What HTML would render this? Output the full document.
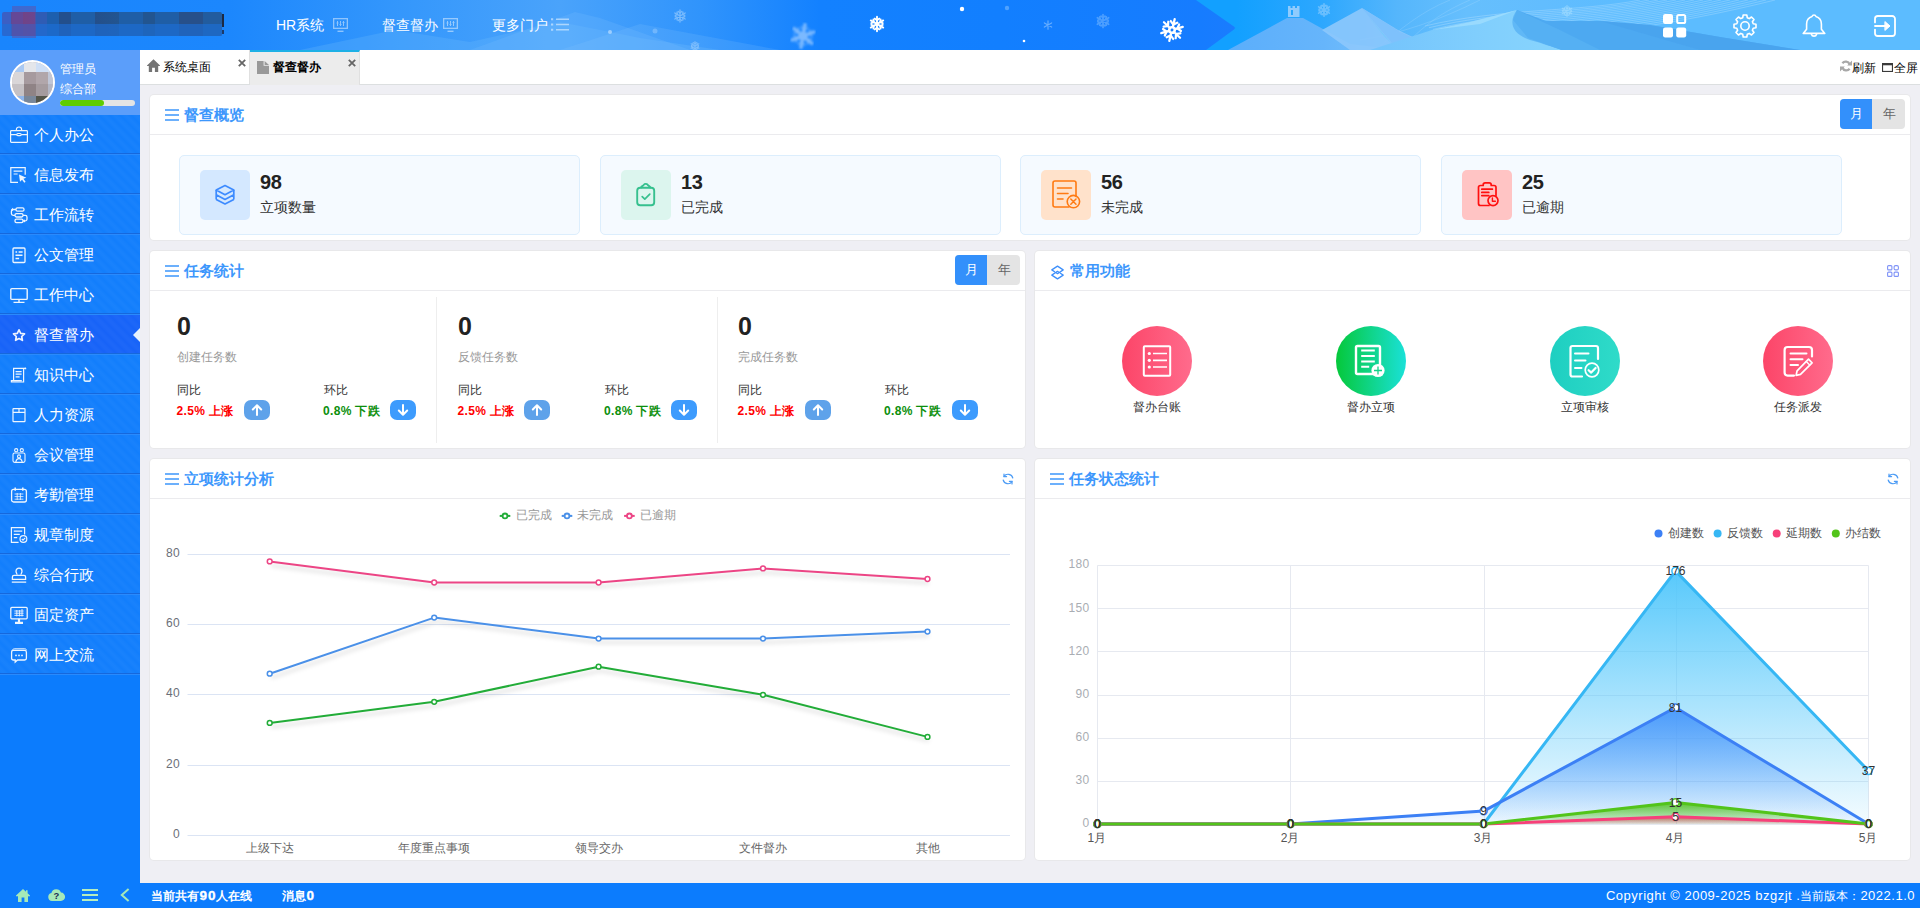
<!DOCTYPE html>
<html lang="zh">
<head>
<meta charset="utf-8">
<title>督查督办</title>
<style>
*{box-sizing:border-box;margin:0;padding:0}
html,body{width:1920px;height:908px;overflow:hidden}
body{position:relative;font-family:"Liberation Sans",sans-serif;background:#efeff4;color:#333;font-size:12px}
.abs{position:absolute}
svg{display:block;overflow:visible}
/* header */
#header{position:absolute;left:0;top:0;width:1920px;height:50px;overflow:hidden;
background:linear-gradient(90deg,#1985fd 0px,#1c87fd 230px,#3497fc 400px,#4aa3fb 560px,#3094fc 700px,#1381ff 820px,#127fff 1000px,#167cff 1200px,#1a7cfe 1234px,#16a0ff 1236px,#3ba4fb 1300px,#57aefa 1450px,#5bb8fd 1620px,#5cbcff 1700px,#5cbcff 1920px)}
#header .nav{position:absolute;top:0;height:50px;line-height:50px;color:#fff;font-size:14px;white-space:nowrap}
/* sidebar */
#sidebar{position:absolute;left:0;top:50px;width:140px;height:833px;background:#0c7cfd;overflow:hidden}
#user{position:absolute;left:0;top:0;width:140px;height:65px;background:#5b9efa}
#user .av{position:absolute;left:10px;top:10px;width:45px;height:45px;border-radius:50%;border:2px solid #fff;overflow:hidden;background:#b9b0b3}
#user .t{position:absolute;left:60px;color:#fff;font-size:12px;line-height:14px;white-space:nowrap}
#user .bar{position:absolute;left:60px;top:50px;width:75px;height:6px;border-radius:3px;background:#e4e4e4;overflow:hidden}
#user .bar i{display:block;width:44px;height:6px;border-radius:3px;background:#5fcc00}
.mi{position:absolute;left:0;width:140px;height:40px;color:#fff;font-size:15px;line-height:39px;
background-color:#127efc;background-image:repeating-linear-gradient(45deg,rgba(255,255,255,0) 0,rgba(255,255,255,.026) 3px,rgba(255,255,255,.026) 4.500px,rgba(255,255,255,0) 7.500px);
border-bottom:1px solid #2a8afc;box-shadow:inset 0 -1px 0 #1668dc}
.mi span{position:absolute;left:33.500px;top:0;white-space:nowrap;letter-spacing:.25px}
.mi svg{position:absolute;left:10px;top:11px;opacity:.92}
.mi.on{background-color:#1763f8}
.mi .tri{position:absolute;right:0;top:13px;width:0;height:0;border-style:solid;border-width:7px 7px 7px 0;border-color:transparent #e8f3fc transparent transparent}
/* tabs */
#tabs{position:absolute;left:140px;top:50px;width:1780px;height:35px;background:#fff;border-bottom:1px solid #dcdfe0}
.tab{position:absolute;top:0;height:34px;width:110px;font-size:12px;line-height:33px;color:#000;border-right:1px solid #e0e0e0}
/* panels */
.panel{position:absolute;background:#fff;border-radius:4px;box-shadow:0 0 0 1px #e8e8ea}
.panel .hd{position:absolute;left:0;top:0;right:0;height:40px;border-bottom:1px solid #ebebee}
.panel .ttl{position:absolute;left:34px;top:0;line-height:40px;font-size:15px;font-weight:bold;color:#3d97fc;white-space:nowrap}
.panel .ham{position:absolute;left:15px;top:14px}

.sw{position:absolute;width:65px;height:30px;border-radius:4px;overflow:hidden;background:#e4e4e4;font-size:13px;line-height:30px;text-align:center}
.sw b{position:absolute;left:0;top:0;width:32px;height:30px;background:#3390fb;color:#fff;font-weight:normal}
.sw i{position:absolute;left:33px;top:0;width:32px;height:30px;color:#666;font-style:normal}
.card{position:absolute;top:60px;width:401px;height:80px;background:#f5faff;border:1px solid #dceefd;border-radius:5px}
.card .ib{position:absolute;left:20px;top:14px;width:50px;height:50px;border-radius:5px}
.card .n{position:absolute;left:80px;top:14px;font-size:20px;line-height:24px;font-weight:bold;color:#222;letter-spacing:-.3px}
.card .l{position:absolute;left:80px;top:41.500px;font-size:14px;line-height:18px;color:#333;white-space:nowrap}

.vsep{position:absolute;top:46px;width:1px;height:146px;background:#eeeeee}
.tc{position:absolute;top:40px;width:260px;height:157px}
.tc .big{position:absolute;left:0;top:21px;font-size:25px;line-height:28px;font-weight:bold;color:#222}
.tc .sub{position:absolute;left:0;top:58px;font-size:12px;line-height:16px;color:#999;white-space:nowrap}
.tc .k{position:absolute;top:91px;font-size:12px;line-height:16px;color:#333;white-space:nowrap}
.tc .v{position:absolute;top:112px;font-size:12px;line-height:16px;font-weight:bold;white-space:nowrap;letter-spacing:.35px;margin-left:-.5px}
.tc .ab{position:absolute;top:109px;width:26px;height:20px;border-radius:7px}

.fn{position:absolute;top:75px;width:70px;height:70px;border-radius:50%}
.fl{position:absolute;top:148px;width:120px;text-align:center;font-size:12px;line-height:16px;color:#333;white-space:nowrap}
/* footer */
#footer{position:absolute;left:0;top:883px;width:1920px;height:25px;background:#0c7cfd;color:#fff;font-size:12px;line-height:25px;font-weight:bold}
.vd{font-size:13.500px;letter-spacing:.9px;margin-left:.5px;-webkit-text-stroke:.35px #fff}
</style>
</head>
<body>
<div id="header">
<svg class="abs" style="left:0;top:0" width="1920" height="50" viewBox="0 0 1920 50">
<defs>
<linearGradient id="hg1" x1="0" x2="1"><stop offset="0" stop-color="#6fbdfd" stop-opacity=".0"/><stop offset=".5" stop-color="#7cc4fd" stop-opacity=".55"/><stop offset="1" stop-color="#6fbdfd" stop-opacity=".0"/></linearGradient>
<g id="sf" fill="none" stroke-linecap="round"><path d="M0-10V10M-8.660-5L8.660 5M-8.660 5L8.660-5"/><path d="M-3-7.500L0-5 3-7.500M-3 7.500L0 5 3 7.500M-8-1.100L-4.330-2.500-5-6.350M8 1.100L4.330 2.500 5 6.350M-8 1.100L-4.330 2.500-5 6.350M8-1.100L4.330-2.500 5-6.350"/></g>
<g id="sf2" fill="none" stroke-linecap="round"><path d="M0-10V10M-8.660-5L8.660 5M-8.660 5L8.660-5"/></g>
<filter id="bl"><feGaussianBlur stdDeviation="1.1"/></filter>
</defs>
<!-- left faint mountains -->
<path d="M300 50L395 30 470 42 560 22 640 38 720 50z" fill="#6db9fd" opacity=".28"/>
<path d="M470 50L575 12 600 18 690 50z" fill="#7cc0fd" opacity=".22"/>
<path d="M560 50L640 24 780 50z" fill="#8cc8fe" opacity=".18"/>
<!-- right side -->
<linearGradient id="sky" x1="1236" x2="1620" gradientUnits="userSpaceOnUse"><stop offset="0" stop-color="#12a0ff"/><stop offset=".22" stop-color="#2ca7fe"/><stop offset=".42" stop-color="#55b6fc"/><stop offset=".6" stop-color="#66bffd"/><stop offset=".8" stop-color="#62bdfe"/><stop offset="1" stop-color="#5cbcff"/></linearGradient>
<linearGradient id="m1" x1="1230" x2="1400" gradientUnits="userSpaceOnUse"><stop offset="0" stop-color="#5baefb"/><stop offset=".55" stop-color="#66b5fb"/><stop offset="1" stop-color="#78c4fc"/></linearGradient>
<linearGradient id="m3" x1="1380" x2="1540" gradientUnits="userSpaceOnUse"><stop offset="0" stop-color="#74c4fc"/><stop offset=".6" stop-color="#80cefd"/><stop offset="1" stop-color="#86d3fd"/></linearGradient>
<path d="M1196 0L1236 28 1206 50H1920V0z" fill="url(#sky)"/>
<g fill="none" stroke="#fff" stroke-width=".7" opacity=".3"><path d="M1425 26.0C1500 8.0 1580 12.0 1640 0M1429 27.7C1503 9.7 1583 13.7 1649 0M1433 29.4C1506 11.399999999999999 1586 15.399999999999999 1658 0M1437 31.1C1509 13.100000000000001 1589 17.1 1667 0M1441 32.8C1512 14.8 1592 18.8 1676 0M1445 34.5C1515 16.5 1595 20.5 1685 0M1449 36.2C1518 18.2 1598 22.2 1694 0M1453 37.9C1521 19.9 1601 23.9 1703 0M1457 39.6C1524 21.6 1604 25.6 1712 0M1461 41.3C1527 23.299999999999997 1607 27.299999999999997 1721 0M1465 43.0C1530 25.0 1610 29.0 1730 0M1469 44.7C1533 26.700000000000003 1613 30.700000000000003 1739 0M1473 46.4C1536 28.4 1616 32.4 1748 0M1477 48.099999999999994C1539 30.099999999999994 1619 34.099999999999994 1757 0M1481 49.8C1542 31.799999999999997 1622 35.8 1766 0M1485 51.5C1545 33.5 1625 37.5 1775 0"/><path d="M1380 46C1400 30 1420 12 1450 0M1400 50C1420 30 1435 15 1470 0M1360 40C1400 34 1440 20 1480 0" opacity=".6"/></g>
<path d="M1228 50L1287 18 1303 18 1350 44 1400 50z" fill="url(#m1)"/>
<path d="M1322 30L1362 8 1398 30 1440 50H1350z" fill="#8dc8fc" opacity=".9"/>
<path d="M1362 8L1400 32 1440 50H1398z" fill="#7cc0fb" opacity=".85"/>
<path d="M1362 8L1384 36 1392 44 1378 28z" fill="#6ccbfa" opacity=".8"/>
<path d="M1370 50L1432 30 1470 22 1517 10 1513 20 1528 38 1562 50z" fill="url(#m3)"/>
<path d="M1432 30L1470 22 1517 10 1480 24z" fill="#a4e0fe" opacity=".7"/>
<path d="M1517 10L1546 21 1600 21 1650 25 1720 37 1800 50H1562L1528 38 1513 20z" fill="#4da9f1"/>
<path d="M1517 10C1508 22 1512 34 1530 40 1545 44 1552 47 1562 50H1600L1560 30z" fill="#57b2f4" opacity=".8"/>
<path d="M1600 21L1650 25 1720 37 1800 50H1700z" fill="#48a3ee" opacity=".8"/>
<!-- tower -->
<path d="M1288 17V6h2.500v2h2V6h2.500v2h2V6h2.500v11zM1291 10v5h2v-5z" fill="#8fcbfd" fill-rule="evenodd"/>
<!-- snowflakes -->
<g transform="translate(803 36) scale(1.150) rotate(10)" filter="url(#bl)" opacity=".55"><use href="#sf2" stroke="#cfe6ff" stroke-width="3"/><circle r="4" fill="#cfe6ff"/><use href="#sf" stroke="#cfe6ff" stroke-width="1"/></g>
<g transform="translate(877 24) scale(.72)"><use href="#sf" stroke="#fff" stroke-width="2.600"/></g>
<g transform="translate(1172 30) scale(1.120) rotate(14)"><use href="#sf" stroke="#fff" stroke-width="2"/><circle r="3.600" fill="#fff"/><circle r="1.300" fill="#1a80ff"/></g>
<g transform="translate(680 16) scale(.6)" opacity=".45"><use href="#sf" stroke="#cfe8ff" stroke-width="2.200"/></g>
<g transform="translate(1103 21) scale(.65)" opacity=".4"><use href="#sf" stroke="#9fd0ff" stroke-width="2.600"/></g>
<g transform="translate(1048 25) scale(.42)" opacity=".5"><use href="#sf2" stroke="#b8dcff" stroke-width="2.800"/></g>
<g transform="translate(695 46) scale(.45)" opacity=".4"><use href="#sf" stroke="#cfe8ff" stroke-width="2.400"/></g>
<g transform="translate(1324 10) scale(.62)" opacity=".55"><use href="#sf" stroke="#9fd4ff" stroke-width="2.600"/></g>
<g transform="translate(1567 11) scale(.55)" opacity=".6"><use href="#sf" stroke="#a8e0ff" stroke-width="2.200"/></g>
<circle cx="962" cy="9" r="2.200" fill="#fff"/><circle cx="1024" cy="41" r="1.300" fill="#fff"/><circle cx="1007" cy="8" r="2.200" fill="#9ccfff" opacity=".45"/>
<circle cx="610" cy="32" r="2" fill="#cfe8ff" opacity=".6"/><circle cx="655" cy="31" r="2.500" fill="#cfe8ff" opacity=".3"/>
</svg>
<!-- blurred logo -->
<div class="abs" style="left:2px;top:12px;width:220px;height:24px;background:linear-gradient(90deg,#3b5fc4 0,#3b5fc4 9px,#5d4a95 9px,#5d4a95 21px,#73417a 21px,#6a4588 33px,#2f5cb4 33px,#2f5cb4 45px,#1d5fae 45px,#1d5fae 57px,#234f8c 57px,#234f8c 69px,#1f5ea6 69px,#1f5ea6 93px,#244f8a 93px,#225590 117px,#1f5ea6 117px,#1f5ea6 141px,#225590 141px,#225590 153px,#1f5ea6 153px,#1f5ea6 177px,#27508a 177px,#27508a 201px,#225c9e 201px,#225c9e 219px);border-radius:2px"></div>
<div class="abs" style="left:2px;top:24px;width:220px;height:12px;background:rgba(28,112,218,.6)"></div><div class="abs" style="left:222px;top:14px;width:1.500px;height:13px;background:#1c2a44"></div><div class="abs" style="left:222px;top:30px;width:1.500px;height:4px;background:#1c3a6a"></div>
<div class="abs" style="left:12px;top:6px;width:24px;height:32px;background:rgba(110,70,150,.45)"></div>
<div class="nav" style="left:276px">HR系统</div>
<svg class="abs" style="left:333px;top:18px;opacity:.47" width="15" height="14" viewBox="0 0 15 14" fill="none" stroke="#fff" stroke-width="1.300"><rect x=".65" y=".65" width="13.700" height="9.700"/><path d="M4.500 13.300h6" stroke-width="1.400"/><path d="M4.500 3v5M7.500 3v5M10.500 3v5" stroke-width="1"/><path d="M3.500 5h2M6.500 6.500h2M9.500 4.500h2" stroke-width="1"/></svg>
<div class="nav" style="left:382px">督查督办</div>
<svg class="abs" style="left:443px;top:18px;opacity:.47" width="15" height="14" viewBox="0 0 15 14" fill="none" stroke="#fff" stroke-width="1.300"><rect x=".65" y=".65" width="13.700" height="9.700"/><path d="M4.500 13.300h6" stroke-width="1.400"/><path d="M4.500 3v5M7.500 3v5M10.500 3v5" stroke-width="1"/><path d="M3.500 5h2M6.500 6.500h2M9.500 4.500h2" stroke-width="1"/></svg>
<div class="nav" style="left:492px">更多门户</div>
<svg class="abs" style="left:551px;top:18px;opacity:.5" width="18" height="13" viewBox="0 0 18 13" fill="none" stroke="#fff" stroke-width="1.500"><path d="M5 1.200h13M5 6.500h13M5 11.800h13"/><path d="M0 1.200h2.200M0 6.500h2.200M0 11.800h2.200" stroke-width="2"/></svg>
<!-- right icons -->
<svg class="abs" style="left:1663px;top:14px" width="24" height="24" viewBox="0 0 24 24"><rect x="0" y="0" width="10" height="10" rx="2.200" fill="#fff"/><rect x="0" y="13.400" width="10" height="10" rx="2.200" fill="#fff"/><rect x="13.200" y="13.400" width="10" height="10" rx="2.200" fill="#fff"/><rect x="14.200" y="1" width="8" height="8" rx="1.600" fill="none" stroke="#fff" stroke-width="2"/></svg>
<svg class="abs" style="left:1733px;top:14px" width="24" height="24" viewBox="0 0 24 24" fill="none" stroke="#fff" stroke-width="1.600" stroke-linejoin="round"><path d="M10.200 1h3.600l.5 2.800 1.900.8 2.300-1.600 2.500 2.500-1.600 2.300.8 1.900 2.800.5v3.600l-2.800.5-.8 1.900 1.600 2.300-2.500 2.500-2.300-1.600-1.900.8-.5 2.800h-3.600l-.5-2.800-1.900-.8-2.300 1.600-2.500-2.500 1.600-2.300-.8-1.900L1 13.800v-3.600l2.800-.5.800-1.900L3 5.500 5.500 3l2.300 1.600 1.900-.8z"/><circle cx="12" cy="12" r="4.200"/></svg>
<svg class="abs" style="left:1802px;top:14px" width="24" height="24" viewBox="0 0 24 24" fill="none" stroke="#fff" stroke-width="1.600" stroke-linejoin="round" stroke-linecap="round"><path d="M12 1c-1 0-1.700.6-1.900 1.400C6.600 3.400 4.600 6.400 4.600 10v5.200L1.200 19.400h21.600l-3.400-4.200V10c0-3.600-2-6.600-5.500-7.600C13.700 1.600 13 1 12 1z"/><path d="M9.400 20.200a2.700 2.700 0 0 0 5.200 0"/></svg>
<svg class="abs" style="left:1874px;top:15px" width="22" height="22" viewBox="0 0 22 22" fill="none" stroke="#fff" stroke-width="1.800" stroke-linejoin="round" stroke-linecap="round"><path d="M1 7.400V3.800A2.800 2.800 0 0 1 3.800 1h14.400A2.800 2.800 0 0 1 21 3.800v14.400a2.800 2.800 0 0 1-2.800 2.800H3.800A2.800 2.800 0 0 1 1 18.200v-3.600"/><path d="M1 11h14"/><path d="M11.200 6.800L16 11l-4.800 4.200z" fill="#fff" stroke-width="1"/></svg>
</div>
<div id="sidebar">
<div id="user"><div class="av"><svg width="41" height="41" viewBox="0 0 41 41"><rect x="0" y="-2" width="12.5" height="12.5" fill="#a9c9f3"/><rect x="12" y="-2" width="12.5" height="12.5" fill="#e4e6ea"/><rect x="24" y="-2" width="12.5" height="12.5" fill="#cfdff5"/><rect x="36" y="-2" width="8.5" height="12.5" fill="#d5e2f5"/><rect x="0" y="10" width="12.5" height="12.5" fill="#d9d6d8"/><rect x="12" y="10" width="12.5" height="12.5" fill="#a69a9e"/><rect x="24" y="10" width="12.5" height="12.5" fill="#b1a6aa"/><rect x="36" y="10" width="8.5" height="12.5" fill="#c0c6d6"/><rect x="0" y="22" width="12.5" height="12.5" fill="#c5c1c4"/><rect x="12" y="22" width="12.5" height="12.5" fill="#8f8385"/><rect x="24" y="22" width="12.5" height="12.5" fill="#a59b9e"/><rect x="36" y="22" width="8.5" height="12.5" fill="#b3b6c4"/><rect x="0" y="34" width="12.5" height="12.5" fill="#8db5ec"/><rect x="12" y="34" width="12.5" height="12.5" fill="#78879a"/><rect x="24" y="34" width="12.5" height="12.5" fill="#54554a"/><rect x="36" y="34" width="8.5" height="12.5" fill="#6f7468"/></svg></div><div class="t" style="top:12px">管理员</div><div class="t" style="top:32px">综合部</div><div class="bar"><i></i></div></div>
<div class="mi" style="top:65px"><svg width="18" height="18" viewBox="0 0 18 18" fill="none" stroke="#fff" stroke-width="1.2"><rect x=".6" y="4.6" width="16.8" height="11.8" rx=".8"/><path d="M6.4 4.4V3.6a2.6 2.6 0 0 1 5.2 0v.8M.6 8.6h6.2M11.2 8.6h6.2"/><rect x="6.8" y="7.5" width="4.4" height="2.2" rx="1.1"/></svg><span>个人办公</span></div>
<div class="mi" style="top:105px"><svg width="18" height="18" viewBox="0 0 18 18" fill="none" stroke="#fff" stroke-width="1.2"><path d="M8 16.4H.8V1.6h14.4v7.2M3.6 5.2h8.8M3.6 8h4"/><path d="M9 8.6l7.4 3.2-3 1 2.2 3-1.3 1-2.2-3.1-2.1 2.1z" fill="#fff" stroke="none"/></svg><span>信息发布</span></div>
<div class="mi" style="top:145px"><svg width="18" height="18" viewBox="0 0 18 18" fill="none" stroke="#fff" stroke-width="1.3"><rect x="6" y="1.8" width="8" height="3.4" rx="1.4"/><rect x="5" y="7.6" width="8" height="3.4" rx="1.4"/><rect x="5" y="13.2" width="8" height="3.4" rx="1.4"/><path d="M6 3.5H3.2a1.8 1.8 0 0 0-1.800 1.800v2.200a1.800 1.800 0 0 0 1.800 1.800H5M13 9.300h2.200a1.800 1.800 0 0 1 1.800 1.800v2a1.800 1.800 0 0 1-1.800 1.800H13"/><path d="M3 1.800L1.200 3.500 3 5.200zM15 13.300l-1.800 1.600 1.800 1.700z" fill="#fff" stroke="none"/></svg><span>工作流转</span></div>
<div class="mi" style="top:185px"><svg width="18" height="18" viewBox="0 0 18 18" fill="none" stroke="#fff" stroke-width="1.3"><rect x="3" y="2" width="12" height="14.500" rx="1"/><path d="M5.500 6h1.600M8.600 6h4M5.500 9.200h7M5.500 12.400h3.600" stroke-width="1.500"/></svg><span>公文管理</span></div>
<div class="mi" style="top:225px"><svg width="18" height="18" viewBox="0 0 18 18" fill="none" stroke="#fff" stroke-width="1.4"><rect x=".8" y="2.600" width="16.400" height="10.800" rx="1"/><path d="M3.500 16.400h11M9 13.400v3" /></svg><span>工作中心</span></div>
<div class="mi on" style="top:265px"><svg width="18" height="18" viewBox="0 0 18 18" fill="none" stroke="#fff" stroke-width="1.700" stroke-linejoin="round"><path d="M9 3.800l1.700 3.500 3.800.5-2.800 2.700.7 3.800L9 12.500l-3.400 1.800.7-3.800L3.500 7.800l3.800-.5z"/></svg><span>督查督办</span><b class="tri"></b></div>
<div class="mi" style="top:305px"><svg width="18" height="18" viewBox="0 0 18 18" fill="none" stroke="#fff" stroke-width="1.200"><path d="M3.600 15V2.400h11.800M13.600 2.400V16H1.400v-1.400h10.400" /><path d="M5.600 5.600h6M5.600 8.200h6M5.600 10.800h4" stroke-width="1.300"/><circle cx="15.400" cy="2.400" r=".9" fill="#fff" stroke="none"/></svg><span>知识中心</span></div>
<div class="mi" style="top:345px"><svg width="18" height="18" viewBox="0 0 18 18" fill="none" stroke="#fff" stroke-width="1.200"><rect x="3" y="2.600" width="12" height="13" rx=".6"/><path d="M3 6.400h12M9 2.600v3.800"/></svg><span>人力资源</span></div>
<div class="mi" style="top:385px"><svg width="18" height="18" viewBox="0 0 18 18" fill="none" stroke="#fff" stroke-width="1.100"><circle cx="6.200" cy="4.200" r="1.600"/><circle cx="11.800" cy="4.200" r="1.600"/><rect x="3" y="7" width="12" height="9.400" rx="1.600"/><circle cx="9" cy="10.400" r="1.500"/><path d="M5.800 16.200c.4-2.600 1.600-3.600 3.200-3.600s2.800 1 3.200 3.600"/></svg><span>会议管理</span></div>
<div class="mi" style="top:425px"><svg width="18" height="18" viewBox="0 0 18 18" fill="none" stroke="#fff" stroke-width="1.300"><rect x="1.600" y="3.400" width="14.800" height="12.600" rx="2"/><path d="M5.200 1.600v3.200M12.800 1.600v3.200" stroke-width="1.500"/><path d="M4.600 8h8.800M4.600 10.600h8.800M4.600 13.200h8.800M7.200 7v7M10.400 7v7" stroke-width=".9" opacity=".9"/></svg><span>考勤管理</span></div>
<div class="mi" style="top:465px"><svg width="18" height="18" viewBox="0 0 18 18" fill="none" stroke="#fff" stroke-width="1.200"><path d="M8.600 16.400H1.400V1.600h13.200v6.800M3.800 5.200h8.400M3.800 8.400h6M3.800 11.600h3.400"/><circle cx="13.400" cy="13" r="3.400"/><path d="M11.800 13l1.200 1.200 2.200-2.300" stroke-width="1.100"/></svg><span>规章制度</span></div>
<div class="mi" style="top:505px"><svg width="18" height="18" viewBox="0 0 18 18" fill="none" stroke="#fff" stroke-width="1.300"><path d="M6.800 8.600c.4-1-.8-2-.8-3.400a3 3 0 0 1 6 0c0 1.400-1.200 2.400-.8 3.400M2.400 13.400V11a1.600 1.600 0 0 1 1.600-1.600h10a1.600 1.600 0 0 1 1.600 1.600v2.400zM1.800 16.200h14.400"/></svg><span>综合行政</span></div>
<div class="mi" style="top:545px"><svg width="18" height="18" viewBox="0 0 18 18" fill="none" stroke="#fff" stroke-width="1.300"><rect x=".8" y="1.400" width="16.400" height="11.400" rx="1"/><path d="M5 16.800h8M9 12.800v4" stroke-width="2.200"/><path d="M4.400 5h9.200M4.400 7.200h9.200M4.400 9.400h9.200M6.800 4v6.400M9.600 4v6.400M12 3v7.400" stroke-width=".9"/></svg><span>固定资产</span></div>
<div class="mi" style="top:585px"><svg width="18" height="18" viewBox="0 0 18 18" fill="none" stroke="#fff" stroke-width="1.300"><path d="M3.400 4.400h11.200a1.800 1.800 0 0 1 1.800 1.800v6a1.800 1.800 0 0 1-1.800 1.800H7.600l-2.400 2v-2H3.400a1.800 1.800 0 0 1-1.800-1.800v-6a1.800 1.800 0 0 1 1.800-1.800z"/><path d="M1.800 4.800c.6-1.400 1.800-2 3-2h10c1 0 1.600.6 1.600 1.400" stroke-width="1"/><circle cx="6" cy="9.400" r=".9" fill="#fff" stroke="none"/><circle cx="9" cy="9.400" r=".9" fill="#fff" stroke="none"/><circle cx="12" cy="9.400" r=".9" fill="#fff" stroke="none"/></svg><span>网上交流</span></div>
</div>
<div id="tabs">
<div class="tab" style="left:0;background:#fff;line-height:35px"><svg class="abs" style="left:7px;top:9px" width="13" height="13" viewBox="0 0 13 13" fill="#747474"><path d="M6.500.2L0 6.400v.6h1.800V13h3.300V8.800h2.800V13h3.300V7H13v-.6z"/></svg><span class="abs" style="left:23px;top:0">系统桌面</span><svg class="abs" style="left:98px;top:9px" width="8" height="8" viewBox="0 0 8 8" stroke="#666" stroke-width="1.800"><path d="M.8.800l6.400 6.400M7.200.800L.8 7.200"/></svg></div>
<div class="tab" style="left:110px;background:#ececec;border-top:2px solid #1db0e6;line-height:30px;font-weight:bold;height:35px"><svg class="abs" style="left:7px;top:9px" width="12" height="13" viewBox="0 0 12 13" fill="#999"><path d="M0 0h6.600v4.800H12V13H0z"/><path d="M7.600 0L12 4H7.600z"/></svg><span class="abs" style="left:23px;top:0">督查督办</span><svg class="abs" style="left:98px;top:7px" width="8" height="8" viewBox="0 0 8 8" stroke="#666" stroke-width="1.800"><path d="M.8.800l6.400 6.400M7.200.800L.8 7.200"/></svg></div>
<svg class="abs" style="left:1700px;top:10px" width="12" height="12" viewBox="0 0 12 12" fill="none" stroke="#a8a8a8" stroke-width="2.300"><path d="M9.600 4.200A4.200 4.200 0 0 0 2.400 3.200M2.400 7.800a4.200 4.200 0 0 0 7.200 1"/><path d="M12 .6v4.800H7.200zM0 11.400V6.600h4.800z" fill="#a8a8a8" stroke="none"/></svg>
<span class="abs" style="left:1712px;top:0;line-height:36px;color:#000">刷新</span>
<svg class="abs" style="left:1742px;top:13px" width="11" height="9" viewBox="0 0 11 9" fill="none" stroke="#3a3a3a" stroke-width="1.100"><rect x=".55" y=".55" width="9.900" height="7.900"/><path d="M.6 1.400h9.800" stroke-width="1.800"/></svg>
<span class="abs" style="left:1754px;top:0;line-height:36px;color:#000">全屏</span>
</div>
<div class="panel" id="p1" style="left:150px;top:95px;width:1760px;height:145px"><div class="hd"></div>
<svg class="ham" width="14" height="12" viewBox="0 0 14 12" stroke="#3d97fc" stroke-width="1.500"><path d="M0 1h14M0 6h14M0 11h14"/></svg><div class="ttl">督查概览</div>
<div class="sw" style="left:1690px;top:4px"><b>月</b><i>年</i></div>
<div class="card" style="left:29px"><div class="ib" style="background:#d4e8ff"><svg width="50" height="50" viewBox="0 0 50 50" fill="none" stroke="#3d8bff" stroke-width="1.700" stroke-linejoin="round"><path d="M25 15.500l8.800 4.600-8.800 4.600-8.800-4.600z"/><path d="M16.200 24.800l8.800 4.600 8.800-4.600M16.200 29.400l8.800 4.600 8.800-4.600M16.200 20.100v9.300M33.800 20.100v9.300" /></svg></div><div class="n">98</div><div class="l">立项数量</div></div>
<div class="card" style="left:450px"><div class="ib" style="background:#dcf5ee"><svg width="50" height="50" viewBox="0 0 50 50" fill="none" stroke="#36c08e" stroke-width="1.900" stroke-linejoin="round" stroke-linecap="round"><rect x="16.200" y="17.800" width="17" height="17.400" rx="3"/><path d="M20 17.600c.6-1.800 2.200-1.600 3-3 .6-1 2.800-1 3.400 0 .8 1.400 2.400 1.200 3 3"/><path d="M21.200 26.600l2.600 2.600 5-5" stroke-width="1.700"/></svg></div><div class="n">13</div><div class="l">已完成</div></div>
<div class="card" style="left:870px;width:401px"><div class="ib" style="background:#ffe2cb"><svg width="50" height="50" viewBox="0 0 50 50" fill="none" stroke="#ff7a12" stroke-width="1.600" stroke-linecap="round"><path d="M28 37H14a2 2 0 0 1-2-2V13a2 2 0 0 1 2-2h19a2 2 0 0 1 2 2v13.500"/><path d="M16.500 18h14M16.500 23.500h10.500M16.500 29h5.500"/><circle cx="32.400" cy="31.600" r="6.200"/><path d="M29.800 29l5.200 5.200M35 29l-5.200 5.200" stroke-width="1.500"/></svg></div><div class="n">56</div><div class="l">未完成</div></div>
<div class="card" style="left:1291px"><div class="ib" style="background:#ffc4c4"><svg width="50" height="50" viewBox="0 0 50 50" fill="none" stroke="#ff1010" stroke-width="1.700" stroke-linecap="round" stroke-linejoin="round"><path d="M27 35.500H18.500a2 2 0 0 1-2-2V17.500a2 2 0 0 1 2-2h2.700v-.6a2 2 0 0 1 2-2h4a2 2 0 0 1 2 2v.6H32a2 2 0 0 1 2 2v8"/><path d="M19.800 19.200h10.600M19.800 22.400h7M19.800 25.600h7"/><circle cx="31" cy="30.600" r="5"/><path d="M30.400 28v3.200h3" stroke-width="1.400"/></svg></div><div class="n">25</div><div class="l">已逾期</div></div>
</div>
<div class="panel" id="p2" style="left:150px;top:251px;width:875px;height:197px"><div class="hd"></div>
<svg class="ham" width="14" height="12" viewBox="0 0 14 12" stroke="#3d97fc" stroke-width="1.500"><path d="M0 1h14M0 6h14M0 11h14"/></svg><div class="ttl">任务统计</div>
<div class="sw" style="left:805px;top:4px"><b>月</b><i>年</i></div>
<div class="vsep" style="left:286px"></div><div class="vsep" style="left:567px"></div>
<div class="tc" style="left:27px"><div class="big">0</div><div class="sub">创建任务数</div><div class="k" style="left:0">同比</div><div class="v" style="left:0;color:#ff0000">2.5% 上涨</div><div class="ab" style="left:67px;background:#5ea2ea"><svg width="26" height="20" viewBox="0 0 26 20" fill="none" stroke="#fff" stroke-width="2" stroke-linecap="round" stroke-linejoin="round"><path d="M13 15V5.500M8.800 9.500L13 5.300l4.200 4.200"/></svg></div><div class="k" style="left:146.500px">环比</div><div class="v" style="left:146.500px;color:#0c8f0c">0.8% 下跌</div><div class="ab" style="left:213px;background:#3d9bfd"><svg width="26" height="20" viewBox="0 0 26 20" fill="none" stroke="#fff" stroke-width="2" stroke-linecap="round" stroke-linejoin="round"><path d="M13 5v9.500M8.800 10.500L13 14.700l4.200-4.200"/></svg></div></div>
<div class="tc" style="left:308px"><div class="big">0</div><div class="sub">反馈任务数</div><div class="k" style="left:0">同比</div><div class="v" style="left:0;color:#ff0000">2.5% 上涨</div><div class="ab" style="left:66px;background:#5ea2ea"><svg width="26" height="20" viewBox="0 0 26 20" fill="none" stroke="#fff" stroke-width="2" stroke-linecap="round" stroke-linejoin="round"><path d="M13 15V5.500M8.800 9.500L13 5.300l4.200 4.200"/></svg></div><div class="k" style="left:146.500px">环比</div><div class="v" style="left:146.500px;color:#0c8f0c">0.8% 下跌</div><div class="ab" style="left:213px;background:#3d9bfd"><svg width="26" height="20" viewBox="0 0 26 20" fill="none" stroke="#fff" stroke-width="2" stroke-linecap="round" stroke-linejoin="round"><path d="M13 5v9.500M8.800 10.500L13 14.700l4.200-4.200"/></svg></div></div>
<div class="tc" style="left:588px"><div class="big">0</div><div class="sub">完成任务数</div><div class="k" style="left:0">同比</div><div class="v" style="left:0;color:#ff0000">2.5% 上涨</div><div class="ab" style="left:66.500px;background:#5ea2ea"><svg width="26" height="20" viewBox="0 0 26 20" fill="none" stroke="#fff" stroke-width="2" stroke-linecap="round" stroke-linejoin="round"><path d="M13 15V5.500M8.800 9.500L13 5.300l4.200 4.200"/></svg></div><div class="k" style="left:146.500px">环比</div><div class="v" style="left:146.500px;color:#0c8f0c">0.8% 下跌</div><div class="ab" style="left:214px;background:#3d9bfd"><svg width="26" height="20" viewBox="0 0 26 20" fill="none" stroke="#fff" stroke-width="2" stroke-linecap="round" stroke-linejoin="round"><path d="M13 5v9.500M8.800 10.500L13 14.700l4.200-4.200"/></svg></div></div>
</div>
<div class="panel" id="p3" style="left:1035px;top:251px;width:875px;height:197px"><div class="hd"></div>
<svg class="abs" style="left:16px;top:13.500px" width="13" height="15" viewBox="0 0 13 15" fill="none" stroke="#3d8ffb" stroke-width="1.300" stroke-linejoin="round" stroke-linecap="round"><path d="M3.600 6.800L.8 4.900 6.500 1.100 12.200 4.900 6.500 8.700 5.200 7.800"/><path d="M9.400 8.200L12.200 10.100 6.500 13.900.8 10.100 6.500 6.300 7.800 7.200"/></svg>
<div class="ttl" style="left:35px">常用功能</div>
<svg class="abs" style="left:852px;top:14px" width="12" height="12" viewBox="0 0 12 12" fill="none" stroke="#7f93f7" stroke-width="1.100"><rect x=".6" y=".6" width="4.300" height="4.300" rx="1"/><rect x="7.100" y=".6" width="4.300" height="4.300" rx="1.400"/><rect x=".6" y="7.100" width="4.300" height="4.300" rx="1"/><rect x="7.100" y="7.100" width="4.300" height="4.300" rx="1"/></svg>
<div class="fn" style="left:87px;background:linear-gradient(90deg,#fc4568,#ff6b8c)"><svg width="70" height="70" viewBox="0 0 70 70" fill="none" stroke="#fff" stroke-width="2"><rect x="21.800" y="20.300" width="26.400" height="29.400" rx="1"/><path d="M31 27.500h14M31 34.300h14M31 41h14" stroke-width="1.700"/><circle cx="27.300" cy="27.500" r="1.600" fill="#fff" stroke="none"/><circle cx="27.300" cy="34.300" r="1.600" fill="#fff" stroke="none"/><circle cx="27.300" cy="41" r="1.600" fill="#fff" stroke="none"/></svg></div><div class="fl" style="left:62px">督办台账</div>
<div class="fn" style="left:301px;background:linear-gradient(90deg,#05c83a,#1ae1d8)"><svg width="70" height="70" viewBox="0 0 70 70" fill="none" stroke="#fff" stroke-width="2.400"><rect x="20" y="20" width="24" height="28" rx="1.500"/><path d="M25.200 24.600h13.600M25.200 30h13.600M25.200 35.400h13.600M25.200 40.800h8" stroke-width="2"/><circle cx="42" cy="44.500" r="6.600" fill="#fff" stroke="none"/><path d="M42 40.500v8M38 44.500h8" stroke="#12d38a" stroke-width="1.300"/></svg></div><div class="fl" style="left:276px">督办立项</div>
<div class="fn" style="left:515px;background:linear-gradient(90deg,#1ecfc1,#2fdbc9)"><svg width="70" height="70" viewBox="0 0 70 70" fill="none" stroke="#fff" stroke-width="2.200" stroke-linecap="round" stroke-linejoin="round"><path d="M32 50.500H22.500a2 2 0 0 1-2-2V22a2 2 0 0 1 2-2H46a2 2 0 0 1 2 2v11"/><path d="M25 27.600h13.500M25 34.500h10.500M25 42h6.500" stroke-width="2"/><circle cx="42" cy="44" r="6.800" stroke-width="1.700"/><path d="M38.600 44.200l2.600 2.400 4.400-4.600" stroke-width="2.200"/></svg></div><div class="fl" style="left:490px">立项审核</div>
<div class="fn" style="left:728px;background:linear-gradient(90deg,#fc4568,#ff6b8c)"><svg width="70" height="70" viewBox="0 0 70 70" fill="none" stroke="#fff" stroke-width="2.200" stroke-linecap="round" stroke-linejoin="round"><path d="M31 49.600H24.600a3 3 0 0 1-3-3V24a3 3 0 0 1 3-3H46a3 3 0 0 1 3 3v6.500"/><path d="M27.500 27.600h16M27.500 33.200h12M27.500 39h7.500" stroke-width="2"/><path d="M45.500 33.200l3.600 3.600-11.600 11.600-4.400 1 1-4.600z" stroke-width="1.700"/><path d="M43.300 35.600l3.400 3.400" stroke-width="1.400"/></svg></div><div class="fl" style="left:703px">任务派发</div>
</div>
<div class="panel" id="p4" style="left:150px;top:459px;width:875px;height:401px"><div class="hd"></div>
<svg class="ham" width="14" height="12" viewBox="0 0 14 12" stroke="#3d97fc" stroke-width="1.500"><path d="M0 1h14M0 6h14M0 11h14"/></svg><div class="ttl">立项统计分析</div><svg class="abs" style="left:852px;top:14px" width="12" height="12" viewBox="0 0 12 12" fill="none" stroke="#4b9bf5" stroke-width="1.200" stroke-linecap="round"><path d="M10.800 5A4.900 4.900 0 0 0 2 3.400M1.200 7A4.900 4.900 0 0 0 10 8.600"/><path d="M2 1v2.600h2.600M10 11V8.400H7.400"/></svg>
<svg class="abs" style="left:0;top:0" width="875" height="401" viewBox="150 459 875 401" font-family="Liberation Sans,sans-serif" font-size="12">
<defs><filter id="sh" x="-5%" y="-30%" width="110%" height="180%"><feGaussianBlur stdDeviation="2"/></filter></defs>
<path d="M187.500 835.5H1010" stroke="#dbe4f4" stroke-width="1"/><text x="180" y="837.8" text-anchor="end" fill="#6b6f78" letter-spacing=".3">0</text>
<path d="M187.500 765.5H1010" stroke="#dbe4f4" stroke-width="1"/><text x="180" y="767.8" text-anchor="end" fill="#6b6f78" letter-spacing=".3">20</text>
<path d="M187.500 694.5H1010" stroke="#dbe4f4" stroke-width="1"/><text x="180" y="696.8" text-anchor="end" fill="#6b6f78" letter-spacing=".3">40</text>
<path d="M187.500 624.5H1010" stroke="#dbe4f4" stroke-width="1"/><text x="180" y="626.8" text-anchor="end" fill="#6b6f78" letter-spacing=".3">60</text>
<path d="M187.500 554.5H1010" stroke="#dbe4f4" stroke-width="1"/><text x="180" y="556.8" text-anchor="end" fill="#6b6f78" letter-spacing=".3">80</text>
<text x="269.7" y="852" text-anchor="middle" fill="#666">上级下达</text><text x="434.2" y="852" text-anchor="middle" fill="#666">年度重点事项</text><text x="598.6" y="852" text-anchor="middle" fill="#666">领导交办</text><text x="763.0" y="852" text-anchor="middle" fill="#666">文件督办</text><text x="927.5" y="852" text-anchor="middle" fill="#666">其他</text>
<path d="M499.7 515.900h10.600" stroke="#22ac38" stroke-width="2"/><circle cx="505" cy="515.900" r="2.400" fill="#fff" stroke="#22ac38" stroke-width="1.800"/><text x="516" y="518.900" fill="#999">已完成</text><path d="M561.7 515.900h10.600" stroke="#4a90e8" stroke-width="2"/><circle cx="567" cy="515.900" r="2.400" fill="#fff" stroke="#4a90e8" stroke-width="1.800"/><text x="577.4" y="518.900" fill="#999">未完成</text><path d="M624.1 515.900h10.600" stroke="#ec4585" stroke-width="2"/><circle cx="629.4" cy="515.900" r="2.400" fill="#fff" stroke="#ec4585" stroke-width="1.800"/><text x="639.7" y="518.900" fill="#999">已逾期</text>
<polyline points="269.7,722.9 434.2,701.8 598.6,666.7 763.0,694.8 927.5,736.9" fill="none" stroke="#000" stroke-opacity=".11" stroke-width="3" transform="translate(1.500 4)" filter="url(#sh)"/><polyline points="269.7,722.9 434.2,701.8 598.6,666.7 763.0,694.8 927.5,736.9" fill="none" stroke="#22ac38" stroke-width="2" stroke-linejoin="round"/><circle cx="269.7" cy="722.9" r="2.400" fill="#fff" stroke="#22ac38" stroke-width="1.500"/><circle cx="434.2" cy="701.8" r="2.400" fill="#fff" stroke="#22ac38" stroke-width="1.500"/><circle cx="598.6" cy="666.7" r="2.400" fill="#fff" stroke="#22ac38" stroke-width="1.500"/><circle cx="763.0" cy="694.8" r="2.400" fill="#fff" stroke="#22ac38" stroke-width="1.500"/><circle cx="927.5" cy="736.9" r="2.400" fill="#fff" stroke="#22ac38" stroke-width="1.500"/>
<polyline points="269.7,673.7 434.2,617.6 598.6,638.6 763.0,638.6 927.5,631.6" fill="none" stroke="#000" stroke-opacity=".11" stroke-width="3" transform="translate(1.500 4)" filter="url(#sh)"/><polyline points="269.7,673.7 434.2,617.6 598.6,638.6 763.0,638.6 927.5,631.6" fill="none" stroke="#4a90e8" stroke-width="2" stroke-linejoin="round"/><circle cx="269.7" cy="673.7" r="2.400" fill="#fff" stroke="#4a90e8" stroke-width="1.500"/><circle cx="434.2" cy="617.6" r="2.400" fill="#fff" stroke="#4a90e8" stroke-width="1.500"/><circle cx="598.6" cy="638.6" r="2.400" fill="#fff" stroke="#4a90e8" stroke-width="1.500"/><circle cx="763.0" cy="638.6" r="2.400" fill="#fff" stroke="#4a90e8" stroke-width="1.500"/><circle cx="927.5" cy="631.6" r="2.400" fill="#fff" stroke="#4a90e8" stroke-width="1.500"/>
<polyline points="269.7,561.4 434.2,582.5 598.6,582.5 763.0,568.4 927.5,579.0" fill="none" stroke="#000" stroke-opacity=".11" stroke-width="3" transform="translate(1.500 4)" filter="url(#sh)"/><polyline points="269.7,561.4 434.2,582.5 598.6,582.5 763.0,568.4 927.5,579.0" fill="none" stroke="#ec4585" stroke-width="2" stroke-linejoin="round"/><circle cx="269.7" cy="561.4" r="2.400" fill="#fff" stroke="#ec4585" stroke-width="1.500"/><circle cx="434.2" cy="582.5" r="2.400" fill="#fff" stroke="#ec4585" stroke-width="1.500"/><circle cx="598.6" cy="582.5" r="2.400" fill="#fff" stroke="#ec4585" stroke-width="1.500"/><circle cx="763.0" cy="568.4" r="2.400" fill="#fff" stroke="#ec4585" stroke-width="1.500"/><circle cx="927.5" cy="579.0" r="2.400" fill="#fff" stroke="#ec4585" stroke-width="1.500"/>
</svg>
</div>
<div class="panel" id="p5" style="left:1035px;top:459px;width:875px;height:401px"><div class="hd"></div>
<svg class="ham" width="14" height="12" viewBox="0 0 14 12" stroke="#3d97fc" stroke-width="1.500"><path d="M0 1h14M0 6h14M0 11h14"/></svg><div class="ttl">任务状态统计</div><svg class="abs" style="left:852px;top:14px" width="12" height="12" viewBox="0 0 12 12" fill="none" stroke="#4b9bf5" stroke-width="1.200" stroke-linecap="round"><path d="M10.800 5A4.900 4.900 0 0 0 2 3.400M1.200 7A4.900 4.900 0 0 0 10 8.600"/><path d="M2 1v2.600h2.600M10 11V8.400H7.400"/></svg>
<svg class="abs" style="left:0;top:0" width="875" height="401" viewBox="1035 459 875 401" font-family="Liberation Sans,sans-serif" font-size="12">
<defs><linearGradient id="g1" x1="0" y1="0" x2="0" y2="1"><stop offset="0" stop-color="#4fc6fb" stop-opacity=".95"/><stop offset="1" stop-color="#4fc6fb" stop-opacity=".06"/></linearGradient><linearGradient id="g2" x1="0" y1="0" x2="0" y2="1"><stop offset="0" stop-color="#4797fb" stop-opacity=".95"/><stop offset="1" stop-color="#4797fb" stop-opacity=".04"/></linearGradient><linearGradient id="g3" x1="0" y1="0" x2="0" y2="1"><stop offset="0" stop-color="#f7407a" stop-opacity=".9"/><stop offset="1" stop-color="#f7407a" stop-opacity=".1"/></linearGradient><linearGradient id="g4" x1="0" y1="0" x2="0" y2="1"><stop offset="0" stop-color="#52c41a" stop-opacity=".9"/><stop offset="1" stop-color="#52c41a" stop-opacity=".1"/></linearGradient></defs>
<path d="M1097.400 824.5H1868.500" stroke="#e6e9f0" stroke-width="1"/><text x="1089.500" y="827.2" text-anchor="end" fill="#a9adb3" letter-spacing=".3">0</text>
<path d="M1097.400 781.5H1868.500" stroke="#e6e9f0" stroke-width="1"/><text x="1089.500" y="784.1" text-anchor="end" fill="#a9adb3" letter-spacing=".3">30</text>
<path d="M1097.400 738.5H1868.500" stroke="#e6e9f0" stroke-width="1"/><text x="1089.500" y="740.9" text-anchor="end" fill="#a9adb3" letter-spacing=".3">60</text>
<path d="M1097.400 695.5H1868.500" stroke="#e6e9f0" stroke-width="1"/><text x="1089.500" y="697.8" text-anchor="end" fill="#a9adb3" letter-spacing=".3">90</text>
<path d="M1097.400 651.5H1868.500" stroke="#e6e9f0" stroke-width="1"/><text x="1089.500" y="654.6" text-anchor="end" fill="#a9adb3" letter-spacing=".3">120</text>
<path d="M1097.400 608.5H1868.500" stroke="#e6e9f0" stroke-width="1"/><text x="1089.500" y="611.5" text-anchor="end" fill="#a9adb3" letter-spacing=".3">150</text>
<path d="M1097.400 565.5H1868.500" stroke="#e6e9f0" stroke-width="1"/><text x="1089.500" y="568.3" text-anchor="end" fill="#a9adb3" letter-spacing=".3">180</text>
<path d="M1097.5 565.500V824.500" stroke="#e6e9f0" stroke-width="1"/><path d="M1290.5 565.500V824.500" stroke="#e6e9f0" stroke-width="1"/><path d="M1484.5 565.500V824.500" stroke="#e6e9f0" stroke-width="1"/><path d="M1676.5 565.500V824.500" stroke="#e6e9f0" stroke-width="1"/><path d="M1868.5 565.500V824.500" stroke="#e6e9f0" stroke-width="1"/>
<text x="1096.9" y="841.800" text-anchor="middle" fill="#555">1月</text><text x="1290.0" y="841.800" text-anchor="middle" fill="#555">2月</text><text x="1483.1" y="841.800" text-anchor="middle" fill="#555">3月</text><text x="1675.0" y="841.800" text-anchor="middle" fill="#555">4月</text><text x="1868.0" y="841.800" text-anchor="middle" fill="#555">5月</text>
<circle cx="1658.5" cy="533.500" r="4" fill="#3c80f5"/><text x="1668" y="537" fill="#555">创建数</text><circle cx="1717.6" cy="533.500" r="4" fill="#36b7f4"/><text x="1727" y="537" fill="#555">反馈数</text><circle cx="1776.7" cy="533.500" r="4" fill="#f7407a"/><text x="1786" y="537" fill="#555">延期数</text><circle cx="1835.8" cy="533.500" r="4" fill="#52c41a"/><text x="1845" y="537" fill="#555">办结数</text>
<polygon points="1097.4,824.0 1097.4,824.0 1290.5,824.0 1483.6,824.0 1675.5,570.9 1868.5,770.8 1868.5,824.0" fill="url(#g1)"/><polygon points="1097.4,824.0 1097.4,824.0 1290.5,824.0 1483.6,811.1 1675.5,707.5 1868.5,824.0 1868.5,824.0" fill="url(#g2)"/><polygon points="1097.4,824.0 1097.4,824.0 1290.5,824.0 1483.6,824.0 1675.5,816.8 1868.5,824.0 1868.5,824.0" fill="url(#g3)"/><polygon points="1097.4,824.0 1097.4,824.0 1290.5,824.0 1483.6,824.0 1675.5,802.4 1868.5,824.0 1868.5,824.0" fill="url(#g4)"/><polyline points="1097.4,824.0 1290.5,824.0 1483.6,824.0 1675.5,570.9 1868.5,770.8" fill="none" stroke="#36b7f4" stroke-width="3" stroke-linejoin="round"/>
<polyline points="1097.4,824.0 1290.5,824.0 1483.6,811.1 1675.5,707.5 1868.5,824.0" fill="none" stroke="#3c80f5" stroke-width="3" stroke-linejoin="round"/>
<polyline points="1097.4,824.0 1290.5,824.0 1483.6,824.0 1675.5,816.8 1868.5,824.0" fill="none" stroke="#f7407a" stroke-width="3" stroke-linejoin="round"/>
<polyline points="1097.4,824.0 1290.5,824.0 1483.6,824.0 1675.5,802.4 1868.5,824.0" fill="none" stroke="#52c41a" stroke-width="3" stroke-linejoin="round"/>
<circle cx="1097.4" cy="824.0" r="3.600" fill="#fff" stroke="#36b7f4" stroke-width="1.500"/><circle cx="1290.5" cy="824.0" r="3.600" fill="#fff" stroke="#36b7f4" stroke-width="1.500"/><circle cx="1483.6" cy="824.0" r="3.600" fill="#fff" stroke="#36b7f4" stroke-width="1.500"/><circle cx="1675.5" cy="570.9" r="3.600" fill="#fff" stroke="#36b7f4" stroke-width="1.500"/><circle cx="1868.5" cy="770.8" r="3.600" fill="#fff" stroke="#36b7f4" stroke-width="1.500"/>
<circle cx="1097.4" cy="824.0" r="3.600" fill="#fff" stroke="#3c80f5" stroke-width="1.500"/><circle cx="1290.5" cy="824.0" r="3.600" fill="#fff" stroke="#3c80f5" stroke-width="1.500"/><circle cx="1483.6" cy="811.1" r="3.600" fill="#fff" stroke="#3c80f5" stroke-width="1.500"/><circle cx="1675.5" cy="707.5" r="3.600" fill="#fff" stroke="#3c80f5" stroke-width="1.500"/><circle cx="1868.5" cy="824.0" r="3.600" fill="#fff" stroke="#3c80f5" stroke-width="1.500"/>
<circle cx="1097.4" cy="824.0" r="3.600" fill="#fff" stroke="#f7407a" stroke-width="1.500"/><circle cx="1290.5" cy="824.0" r="3.600" fill="#fff" stroke="#f7407a" stroke-width="1.500"/><circle cx="1483.6" cy="824.0" r="3.600" fill="#fff" stroke="#f7407a" stroke-width="1.500"/><circle cx="1675.5" cy="816.8" r="3.600" fill="#fff" stroke="#f7407a" stroke-width="1.500"/><circle cx="1868.5" cy="824.0" r="3.600" fill="#fff" stroke="#f7407a" stroke-width="1.500"/>
<circle cx="1097.4" cy="824.0" r="3.600" fill="#fff" stroke="#52c41a" stroke-width="1.500"/><circle cx="1290.5" cy="824.0" r="3.600" fill="#fff" stroke="#52c41a" stroke-width="1.500"/><circle cx="1483.6" cy="824.0" r="3.600" fill="#fff" stroke="#52c41a" stroke-width="1.500"/><circle cx="1675.5" cy="802.4" r="3.600" fill="#fff" stroke="#52c41a" stroke-width="1.500"/><circle cx="1868.5" cy="824.0" r="3.600" fill="#fff" stroke="#52c41a" stroke-width="1.500"/>
<text x="1097.4" y="828.3" text-anchor="middle" fill="#333">0</text><text x="1290.5" y="828.3" text-anchor="middle" fill="#333">0</text><text x="1483.6" y="828.3" text-anchor="middle" fill="#333">0</text><text x="1675.5" y="575.2" text-anchor="middle" fill="#333">176</text><text x="1868.5" y="775.1" text-anchor="middle" fill="#333">37</text>
<text x="1097.4" y="828.3" text-anchor="middle" fill="#333">0</text><text x="1290.5" y="828.3" text-anchor="middle" fill="#333">0</text><text x="1483.6" y="815.4" text-anchor="middle" fill="#333">9</text><text x="1675.5" y="711.8" text-anchor="middle" fill="#333">81</text><text x="1868.5" y="828.3" text-anchor="middle" fill="#333">0</text>
<text x="1097.4" y="828.3" text-anchor="middle" fill="#333">0</text><text x="1290.5" y="828.3" text-anchor="middle" fill="#333">0</text><text x="1483.6" y="828.3" text-anchor="middle" fill="#333">0</text><text x="1675.5" y="821.1" text-anchor="middle" fill="#333">5</text><text x="1868.5" y="828.3" text-anchor="middle" fill="#333">0</text>
<text x="1097.4" y="828.3" text-anchor="middle" fill="#333">0</text><text x="1290.5" y="828.3" text-anchor="middle" fill="#333">0</text><text x="1483.6" y="828.3" text-anchor="middle" fill="#333">0</text><text x="1675.5" y="806.7" text-anchor="middle" fill="#333">15</text><text x="1868.5" y="828.3" text-anchor="middle" fill="#333">0</text>
</svg>
</div>
<div id="footer">
<svg class="abs" style="left:16px;top:6px" width="14" height="13" viewBox="0 0 14 13" fill="#a6e9b8"><path d="M7 0L0 6.400v.8h2V13h3.600V8.600h2.800V13H12V7.200h2v-.8L11.600 4.200V1.200H10v1.600z"/></svg>
<svg class="abs" style="left:48px;top:6px" width="17" height="12" viewBox="0 0 17 12"><path d="M4 12a4 4 0 0 1-.6-7.900A5 5 0 0 1 13 3.600 4.200 4.200 0 0 1 12.800 12z" fill="#a6e9b8"/><text x="8.400" y="10" font-family="Liberation Sans,sans-serif" font-size="9.500" font-weight="bold" fill="#1b2c55" text-anchor="middle">?</text></svg>
<svg class="abs" style="left:82px;top:6px" width="16" height="12" viewBox="0 0 16 12" stroke="#b5edbf" stroke-width="2"><path d="M0 1h16M0 6h16M0 11h16"/></svg>
<svg class="abs" style="left:120px;top:5px" width="10" height="14" viewBox="0 0 10 14" fill="none" stroke="#a6e9b8" stroke-width="2"><path d="M8.600 1L1.800 7l6.800 6"/></svg>
<span class="abs" style="left:151px;top:0;white-space:nowrap">当前共有<b class="vd">90</b>人在线</span>
<span class="abs" style="left:282px;top:0;white-space:nowrap">消息<b class="vd">0</b></span>
<span class="abs" id="copy" style="right:5px;top:0;white-space:nowrap;font-weight:normal;font-size:13px;letter-spacing:.5px">Copyright © 2009-2025 bzgzjt .<span style="font-size:12px;letter-spacing:0">当前版本：</span>2022.1.0</span>
</div>
</body>
</html>
